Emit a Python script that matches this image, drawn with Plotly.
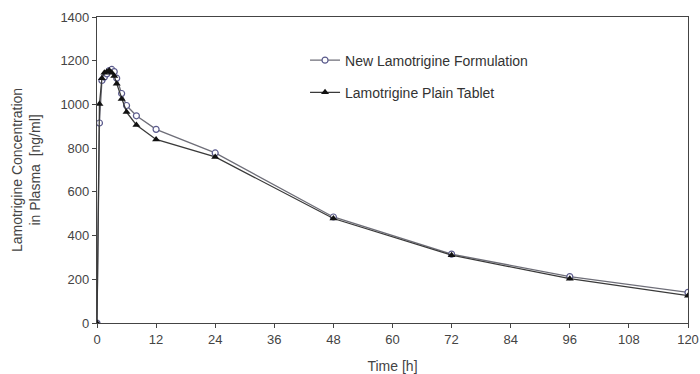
import plotly.graph_objects as go

time_h = [0, 0.5, 1, 1.5, 2, 2.5, 3, 3.5, 4, 5, 6, 8, 12, 24, 48, 72, 96, 120]
new_formulation = [0, 915, 1110, 1125, 1140, 1155, 1160, 1150, 1120, 1050, 995, 948, 886, 778, 485, 315, 212, 140]
plain_tablet = [0, 1002, 1120, 1145, 1150, 1155, 1145, 1130, 1095, 1025, 965, 906, 840, 760, 478, 310, 203, 125]

x_ticks = [0, 12, 24, 36, 48, 60, 72, 84, 96, 108, 120]
y_ticks = [0, 200, 400, 600, 800, 1000, 1200, 1400]

fig = go.Figure()
fig.add_trace(go.Scatter(
    x=time_h, y=new_formulation, name="New Lamotrigine Formulation",
    mode="lines+markers", legendgroup="a",
    line=dict(color="#6e6e78", width=1.3),
    marker=dict(symbol="circle", size=6, color="white",
                line=dict(color="#5a5a8c", width=1.2)),
))
fig.add_trace(go.Scatter(
    x=time_h, y=plain_tablet, name="Lamotrigine Plain Tablet",
    mode="lines+markers", legendgroup="b",
    line=dict(color="#3a3a3a", width=1.3),
    marker=dict(symbol="triangle-up", size=7, color="#111111"),
))

tick_font = dict(family="Liberation Sans, Arial, sans-serif", size=13, color="#444444")
title_font = dict(family="Liberation Sans, Arial, sans-serif", size=14, color="#444444")
fig.update_layout(
    width=700, height=374,
    margin=dict(l=97, r=12, t=17, b=51),
    paper_bgcolor="white", plot_bgcolor="white",
    font=tick_font,
    showlegend=True,
    legend=dict(x=0.352, y=0.91, xanchor="left", yanchor="top",
                bgcolor="rgba(0,0,0,0)", tracegroupgap=11,
                font=dict(family="Liberation Sans, Arial, sans-serif", size=14, color="#333333")),
    xaxis=dict(range=[0, 120], tickvals=x_ticks, ticks="outside", ticklen=4,
               tickcolor="#444444", showline=True, linecolor="#444444", linewidth=1.2,
               mirror=True, showgrid=False, zeroline=False, automargin=False,
               tickfont=tick_font,
               title=dict(text="Time [h]", standoff=15, font=title_font)),
    yaxis=dict(range=[0, 1400], tickvals=y_ticks, ticks="outside", ticklen=4,
               tickcolor="#444444", showline=True, linecolor="#444444", linewidth=1.2,
               mirror=True, showgrid=False, zeroline=False, automargin=False,
               tickfont=tick_font,
               title=dict(text="Lamotrigine Concentration<br>in Plasma  [ng/ml]", standoff=16,
                          font=title_font)),
)

fig.write_html(
    "out.html",
    config={"displayModeBar": False},
    post_script="document.body.style.margin='0';document.body.style.overflow='hidden';",
)
